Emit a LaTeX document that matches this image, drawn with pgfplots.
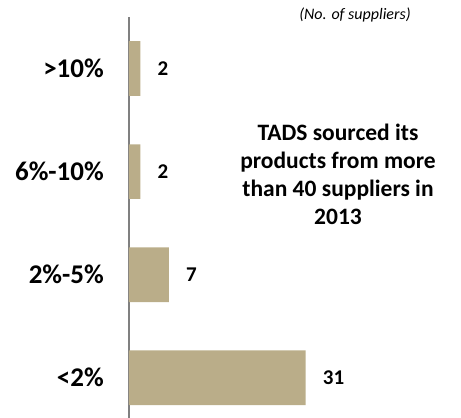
\documentclass[border=0pt]{standalone}
\usepackage{pgfplots}
\pgfplotsset{compat=1.18}
\usepackage{fontspec}
\setmainfont{Carlito}
\definecolor{tan}{RGB}{186,173,137}
\definecolor{axgray}{RGB}{128,128,128}

\begin{document}
\begin{tikzpicture}
\begin{axis}[
  scale only axis,
  width=285pt, height=401pt,
  xbar, bar width=0.53,
  xmin=0, xmax=50,
  ymin=-0.39, ymax=3.5,
  axis x line=none,
  axis y line*=left,
  axis line style={axgray, line width=1.5pt, -},
  ytick={0,1,2,3},
  yticklabels={{<2\%},{2\%-5\%},{6\%-10\%},{>10\%}},
  major tick length=0pt,
  yticklabel style={font=\bfseries\fontsize{27}{30}\selectfont, anchor=east, inner sep=0pt, xshift=-25pt},
  /pgf/number format/assume math mode=true,
  nodes near coords,
  nodes near coords style={font=\bfseries\fontsize{21}{24}\selectfont, anchor=west, inner sep=0pt, xshift=17pt, black},
  clip=false,
]
  \addplot[fill=tan, draw=none] coordinates {
    (31,0)
    (7,1)
    (2,2)
    (2,3)
  };
\end{axis}
\node[font=\bfseries\fontsize{23.5}{28}\selectfont, align=center] at (209pt,244pt)
  {TADS sourced its\\products from more\\than 40 suppliers in\\2013};
\node[font=\itshape\fontsize{16}{18}\selectfont] at (226pt,403pt) {(No. of suppliers)};
\pgfresetboundingbox
\path (-129pt,0pt) rectangle (332pt,418pt);
\end{tikzpicture}
\end{document}
